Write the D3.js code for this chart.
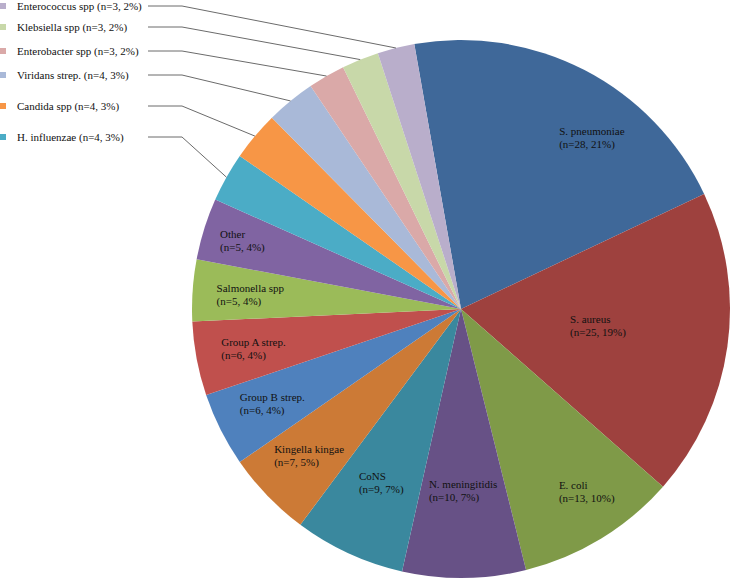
<!DOCTYPE html>
<html><head><meta charset="utf-8">
<script src="https://cdn.jsdelivr.net/npm/d3@7"></script>
<style>html,body{margin:0;padding:0;background:#fff}svg{display:block}
text{font-family:"Liberation Serif","Times New Roman",Tinos,"DejaVu Serif",serif;font-size:11px;fill:#111}</style>
</head><body><svg id="chart" width="732" height="580"></svg>
<script>
// ---- data ----
const categories = ["S. pneumoniae","S. aureus","E. coli","N. meningitidis","CoNS","Kingella kingae","Group B strep.","Group A strep.","Salmonella spp","Other","H. influenzae","Candida spp","Viridans strep.","Enterobacter spp","Klebsiella spp","Enterococcus spp"];
const counts   = [28,25,13,10,9,7,6,6,5,5,4,4,4,3,3,3];
const percents = [21,19,10,7,7,5,4,4,4,4,3,3,3,2,2,2];
const colors   = ["#3F6899","#9E413E","#7F9A48","#675186","#3A889E","#CC7A36","#4F81BD","#C0504D","#9BBB59","#8064A2","#4BACC6","#F79646","#A9B9D8","#DAA9A8","#C8D8A9","#B9AECB"];
const outsideNames = ["Enterococcus spp","Klebsiella spp","Enterobacter spp","Viridans strep.","Candida spp","H. influenzae"];

// ---- layout ----
const cx = 461, cy = 309, R = 269;
const deg = Math.PI / 180;
const startDeg = -10;
const outsideRowY = {"Enterococcus spp":6,"Klebsiella spp":27,"Enterobacter spp":51,"Viridans strep.":75,"Candida spp":106,"H. influenzae":137};
const labelOverride = {
  "S. pneumoniae": {a: 37.3, r: 216},
  "S. aureus": {a: 97, r: 138},
  "E. coli": {a: 145.5, r: 222},
  "N. meningitidis": {r: 182},
  "CoNS": {r: 191},
  "Other": {r: 229}
};

const data = categories.map((c, i) => ({name: c, n: counts[i], p: percents[i], color: colors[i]}));

const svg = d3.select("#chart");
const g = svg.append("g").attr("transform", `translate(${cx},${cy})`);

const pie = d3.pie().value(d => d.n).sort(null)
  .startAngle(startDeg * deg).endAngle((startDeg + 360) * deg);
const arcs = pie(data);
const arc = d3.arc().innerRadius(0).outerRadius(R);

g.selectAll("path.slice").data(arcs).join("path")
  .attr("class", "slice")
  .attr("d", arc)
  .attr("fill", d => d.data.color)
  .attr("stroke", "none");

// inside labels
const inside = arcs.filter(d => !outsideNames.includes(d.data.name));
inside.forEach(d => {
  const mid = (d.startAngle + d.endAngle) / 2;
  const o = labelOverride[d.data.name] || {};
  const a = o.a !== undefined ? o.a * deg : mid;
  const r = o.r !== undefined ? o.r : R * 0.785;
  const x = r * Math.sin(a), y = -r * Math.cos(a);
  const t = g.append("text");
  const l1 = t.append("tspan").text(d.data.name);
  const l2 = t.append("tspan").text(`(n=${d.data.n}, ${d.data.p}%)`);
  const w = Math.max(l1.node().getComputedTextLength(), l2.node().getComputedTextLength());
  const left = x - w / 2;
  l1.attr("x", left).attr("y", y - 6.5 + 4);
  l2.attr("x", left).attr("y", y + 6.5 + 4);
});

// outside labels with leader lines
const outside = arcs.filter(d => outsideNames.includes(d.data.name));
outside.forEach(d => {
  const ly = outsideRowY[d.data.name];
  const mid = (d.startAngle + d.endAngle) / 2;
  const ex = cx + R * Math.sin(mid), ey = cy - R * Math.cos(mid);
  svg.append("path")
    .attr("d", `M148,${ly}L182,${ly}L${ex},${ey}`)
    .attr("fill", "none").attr("stroke", "#6b6b6b").attr("stroke-width", 1);
  svg.append("rect").attr("x", 0).attr("y", ly - 3).attr("width", 6).attr("height", 6)
    .attr("fill", d.data.color);
  svg.append("text").attr("x", 17).attr("y", ly + 4)
    .text(`${d.data.name} (n=${d.data.n}, ${d.data.p}%)`);
});
</script>
</body></html>
